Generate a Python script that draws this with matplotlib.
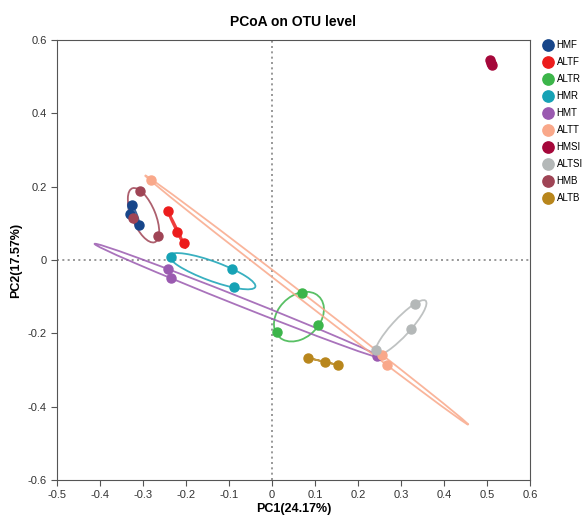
import numpy as np
import matplotlib.pyplot as plt
from matplotlib.patches import Ellipse

plt.rcParams['font.family'] = ['Liberation Sans', 'DejaVu Sans']

# group names, colours and sample coordinates (PC1, PC2)
groups = ['HMF', 'ALTF', 'ALTR', 'HMR', 'HMT', 'ALTT', 'HMSI', 'ALTSI', 'HMB', 'ALTB']
colors = ['#17468a', '#ec1c1c', '#3cb54a', '#16a2b5', '#9a5ab0', '#f9a88a',
          '#a5073a', '#b4b8b8', '#9f4455', '#b8861c']
pc1 = {
    'HMF': [-0.326, -0.330, -0.309],
    'ALTF': [-0.242, -0.221, -0.205],
    'ALTR': [0.070, 0.107, 0.011],
    'HMR': [-0.235, -0.093, -0.088],
    'HMT': [-0.242, -0.235, 0.245],
    'ALTT': [-0.281, 0.267, 0.256],
    'HMSI': [0.507, 0.510, 0.511],
    'ALTSI': [0.333, 0.323, 0.242],
    'HMB': [-0.307, -0.265, -0.324],
    'ALTB': [0.084, 0.123, 0.153],
}
pc2 = {
    'HMF': [0.150, 0.127, 0.095],
    'ALTF': [0.134, 0.076, 0.046],
    'ALTR': [-0.090, -0.177, -0.196],
    'HMR': [0.008, -0.025, -0.074],
    'HMT': [-0.025, -0.049, -0.262],
    'ALTT': [0.218, -0.286, -0.259],
    'HMSI': [0.545, 0.537, 0.533],
    'ALTSI': [-0.120, -0.188, -0.245],
    'HMB': [0.188, 0.065, 0.114],
    'ALTB': [-0.267, -0.278, -0.286],
}

fig = plt.figure(figsize=(5.87, 5.15), dpi=100)
ax = fig.add_axes([0.097, 0.068, 0.806, 0.854])

k = 1.2  # ellipse scale in standard deviations
for g, c in zip(groups, colors):
    x = np.array(pc1[g])
    y = np.array(pc2[g])
    cov = np.cov(x, y)
    vals, vecs = np.linalg.eigh(cov)
    vals = np.clip(vals, 1e-8, None)
    ang = np.degrees(np.arctan2(vecs[1, 1], vecs[0, 1]))
    e = Ellipse((x.mean(), y.mean()), 2 * k * np.sqrt(vals[1]), 2 * k * np.sqrt(vals[0]),
                angle=ang, fill=False, edgecolor=c, lw=1.3, alpha=0.85, zorder=2)
    ax.add_patch(e)

for g, c in zip(groups, colors):
    ax.plot(pc1[g], pc2[g], 'o', color=c, ms=6.5, ls='none', label=g, zorder=3)

ax.axvline(0, color='#888888', ls=(0, (1.2, 2)), lw=1.2, zorder=1)
ax.axhline(0, color='#888888', ls=(0, (1.2, 2)), lw=1.2, zorder=1)

ax.set_xlim(-0.5, 0.6)
ax.set_ylim(-0.6, 0.6)
xt = np.round(np.arange(-0.5, 0.61, 0.1), 1)
yt = np.round(np.arange(-0.6, 0.61, 0.2), 1)
ax.set_xticks(xt)
ax.set_xticklabels(['0' if v == 0 else f'{v:g}' for v in xt])
ax.set_yticks(yt)
ax.set_yticklabels(['0' if v == 0 else f'{v:g}' for v in yt])
ax.tick_params(labelsize=8, length=4, color='#555555', labelcolor='#333333')
for s in ax.spines.values():
    s.set_color('#555555')

ax.set_xlabel('PC1(24.17%)', fontsize=9, fontweight='bold', labelpad=2)
ax.set_ylabel('PC2(17.57%)', fontsize=9, fontweight='bold', labelpad=4)
ax.set_title('PCoA on OTU level', fontsize=10, fontweight='bold', pad=10)

ax.legend(loc='upper left', bbox_to_anchor=(1.005, 1.02), frameon=False, fontsize=7,
          handletextpad=0.1, labelspacing=0.72, markerscale=1.25, handlelength=1.5)

fig.savefig('out.png', dpi=100)
